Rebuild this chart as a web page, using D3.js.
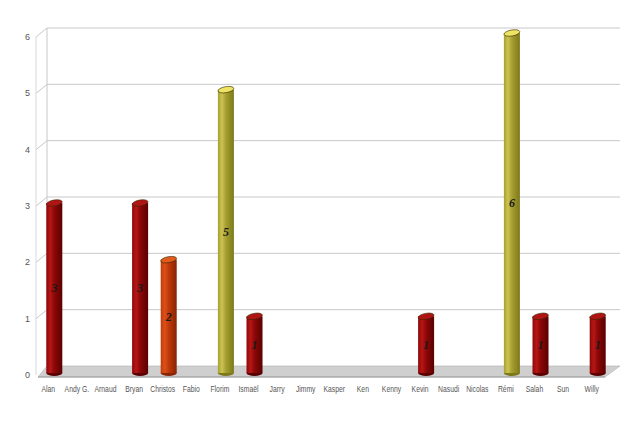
<!DOCTYPE html>
<html><head><meta charset="utf-8">
<script src="https://cdn.jsdelivr.net/npm/d3@7"></script>
<style>body{margin:0;background:#fff}</style>
</head><body>
<svg id="c" width="640" height="426"></svg>
<script>
const categories = ["Alan","Andy G.","Arnaud","Bryan","Christos","Fabio","Florim","Ismaël","Jarry","Jimmy","Kasper","Ken","Kenny","Kevin","Nasudi","Nicolas","Rémi","Salah","Sun","Willy"];
const values = [3,0,0,3,2,0,5,1,0,0,0,0,0,1,0,0,6,1,0,1];
const yTicks = [0,1,2,3,4,5,6];

const svg = d3.select("#c");
const depthY = 9;
const yFront = d3.scaleLinear().domain([0,6]).range([373,33]);
const yBack = d3.scaleLinear().domain([0,6]).range([366,28]);
const yLab = d3.scaleLinear().domain([0,6]).range([375,37]);
const x = d3.scaleBand().domain(categories).range([34,606]).padding(0);

const palette = {dark:["#b81616","#8c0808","#5a0000","#b01414"], orange:["#dc5018","#bf3a0a","#882404","#e25a1c"], olive:["#cbc452","#a69f30","#7d781a","#ece462"]};
function style(v){ return v>=5 ? "olive" : (v===2 ? "orange" : "dark"); }

const defs = svg.append("defs");
Object.entries(palette).forEach(([k,c])=>{
  const g = defs.append("linearGradient").attr("id","g_"+k).attr("x1","0").attr("x2","1").attr("y1","0").attr("y2","0");
  g.append("stop").attr("offset","0").attr("stop-color",c[1]);
  g.append("stop").attr("offset","0.25").attr("stop-color",c[0]);
  g.append("stop").attr("offset","0.5").attr("stop-color",c[1]);
  g.append("stop").attr("offset","1").attr("stop-color",c[2]);
});

const wallL = 47, wallR = 620;
svg.append("g").selectAll("line").data(yTicks.slice(1)).join("line")
  .attr("x1",wallL).attr("x2",wallR).attr("y1",d=>yBack(d)).attr("y2",d=>yBack(d))
  .attr("stroke","#c8c8c8").attr("stroke-width",1);
svg.append("g").selectAll("line").data(yTicks.slice(1)).join("line")
  .attr("x1",36).attr("x2",wallL).attr("y1",d=>yBack(d)+depthY).attr("y2",d=>yBack(d))
  .attr("stroke","#c8c8c8");
svg.append("line").attr("x1",wallL).attr("x2",wallL).attr("y1",yBack(6)).attr("y2",yBack(0)).attr("stroke","#c8c8c8");
svg.append("line").attr("x1",36).attr("x2",36).attr("y1",yBack(6)+depthY).attr("y2",yBack(0)+depthY).attr("stroke","#d8d8d8");

const fy0 = yBack(0), fy1 = yBack(0)+11;
svg.append("polygon").attr("points",`38,${fy1} 605,${fy1} 620,${fy0} ${wallL},${fy0}`)
  .attr("fill","#cfcfcf").attr("stroke","#b0b0b0").attr("stroke-width",0.6);
svg.append("line").attr("x1",38).attr("x2",605).attr("y1",fy1).attr("y2",fy1).attr("stroke","#9a9a9a");

svg.append("g").selectAll("text").data(yTicks).join("text")
  .attr("x",30).attr("y",d=>yLab(d)).attr("dy","0.35em").attr("text-anchor","end")
  .attr("font-family","Liberation Sans Narrow, Arial Narrow, sans-serif").attr("font-size",9).attr("fill","#555")
  .text(d=>d);

svg.append("g").selectAll("text").data(categories).join("text")
  .attr("x",d=>x(d)+x.bandwidth()/2).attr("y",392).attr("text-anchor","middle")
  .attr("font-family","Liberation Sans Narrow, Arial Narrow, sans-serif").attr("font-size",8.5).attr("fill","#555")
  .attr("transform",d=>`translate(${(x(d)+x.bandwidth()/2)},0) scale(0.8,1) translate(${-(x(d)+x.bandwidth()/2)},0)`)
  .text(d=>d);

const bw = 16, ry = 3;
const data = categories.map((c,i)=>({c, v: values[i]})).filter(d=>d.v>0);
const bars = svg.append("g").selectAll("g").data(data).join("g");
bars.each(function(d){
  const g = d3.select(this);
  const cx = x(d.c) + x.bandwidth()/2 + 6;
  const yt = yFront(d.v), yb = yFront(0);
  const p = palette[style(d.v)];
  g.append("ellipse").attr("cx",cx).attr("cy",yb).attr("rx",bw/2).attr("ry",ry).attr("fill",p[2]);
  g.append("rect").attr("x",cx-bw/2).attr("y",yt).attr("width",bw).attr("height",yb-yt).attr("fill",`url(#g_${style(d.v)})`);
  g.append("ellipse").attr("cx",cx).attr("cy",yt).attr("rx",bw/2).attr("ry",ry)
    .attr("transform",`rotate(-10,${cx},${yt})`)
    .attr("fill",p[3]).attr("stroke","#3a2a00").attr("stroke-width",0.6);
  g.append("text").attr("x",cx).attr("y",(yt+yb)/2).attr("dy","0.35em").attr("text-anchor","middle")
    .attr("font-family","Liberation Serif, Times New Roman, serif").attr("font-style","italic").attr("font-weight","bold")
    .attr("font-size",12).attr("fill","#1a1a1a").text(d.v);
});
</script>
</body></html>
